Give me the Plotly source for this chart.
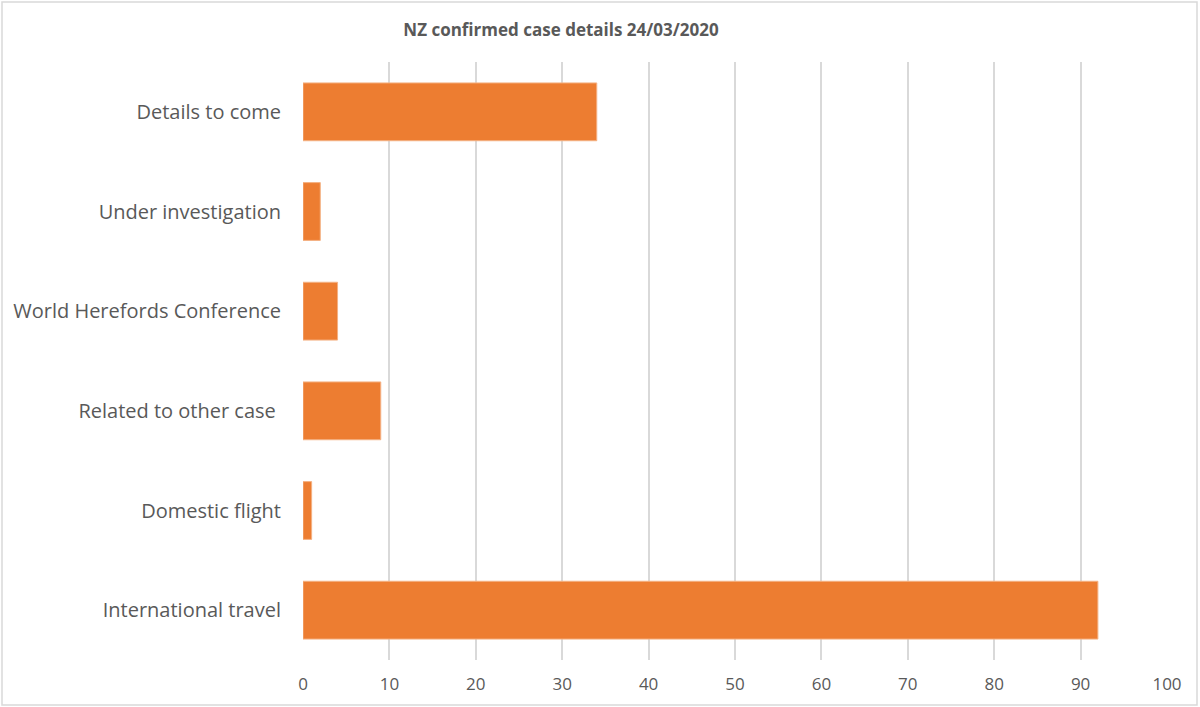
import plotly.graph_objects as go

categories = ["International travel", "Domestic flight", "Related to other case\u00a0",
              "World Herefords Conference", "Under investigation", "Details to come"]
values = [92, 1, 9, 4, 2, 34]
x_ticks = [0, 10, 20, 30, 40, 50, 60, 70, 80, 90, 100]
title_text = "NZ confirmed case details 24/03/2020"

W, H = 1200, 707
L, R, T, B = 303, 33, 62, 47
PW, PH = W - L - R, H - T - B

fig = go.Figure(go.Bar(
    x=values, y=categories, orientation="h",
    marker=dict(color="#ED7D31", line=dict(color="#F4B183", width=1)),
    width=0.58,
))

fig.update_layout(
    width=W, height=H,
    margin=dict(l=L, r=R, t=T, b=B),
    paper_bgcolor="white", plot_bgcolor="white",
    title=dict(text="<b>" + title_text + "</b>", xref="container", x=561 / W, xanchor="center",
               yref="container", y=1 - 30 / H, yanchor="middle",
               font=dict(family="Open Sans", size=17, color="#595959")),
    font=dict(family="Open Sans", size=17, color="#595959"),
    showlegend=False,
    xaxis=dict(range=[0, 100], tickvals=x_ticks, showgrid=True, gridcolor="#D9D9D9", gridwidth=1.5,
               zeroline=False, showline=False, ticks="", tickfont=dict(size=17, color="#595959"),
               ticklabelstandoff=12),
    yaxis=dict(showgrid=False, zeroline=False, showline=False, ticks="",
               tickfont=dict(size=20, color="#595959"), ticklabelstandoff=21),
    shapes=[dict(type="rect", xref="paper", yref="paper",
                 x0=(2 - L) / PW, x1=(1197 - L) / PW,
                 y0=(H - B - 705) / PH, y1=(H - B - 2) / PH,
                 line=dict(color="#D9D9D9", width=1.5))],
)

fig.write_html("out.html", config={"displayModeBar": False},
               post_script="document.body.style.margin='0';document.body.style.overflow='hidden';")
